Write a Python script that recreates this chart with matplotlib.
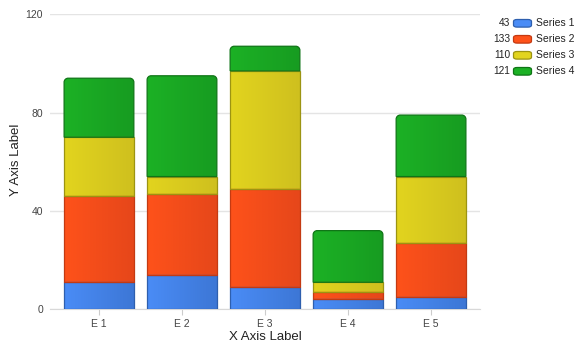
import numpy as np
import matplotlib.pyplot as plt
from matplotlib.path import Path
from matplotlib.patches import PathPatch, FancyBboxPatch
from matplotlib.colors import LinearSegmentedColormap

plt.rcParams['font.family'] = ['Liberation Sans', 'DejaVu Sans']

# stacked values per category
categories = ["E 1", "E 2", "E 3", "E 4", "E 5"]
series_names = ["Series 1", "Series 2", "Series 3", "Series 4"]
series1 = [11, 14, 9, 4, 5]
series2 = [35, 33, 40, 3, 22]
series3 = [24, 7, 48, 4, 27]
series4 = [24, 41, 10, 21, 25]
series_values = [series1, series2, series3, series4]

# left / right gradient colours and outline colour for each series
grad_left = ["#4a8cf6", "#fe521a", "#e2d41f", "#1cb125"]
grad_right = ["#3d77d6", "#e6471a", "#cfc01e", "#179c21"]
edges = ["#2e5fae", "#c43a12", "#9c9412", "#0f7516"]

fig = plt.figure(figsize=(5.84, 3.5), dpi=100)
ax = fig.add_axes([50 / 584, 40.7 / 350, 430 / 584, 295 / 350])

bar_w = 0.84
ax.set_xlim(-0.59, 4.59)
ax.set_ylim(0, 120)

# radius of rounded top corners in pixels, converted to data units
px_x = 430 / 5.18
px_y = 295 / 120
rx = 4 / px_x
ry = 4 / px_y


def seg_path(x0, x1, y0, y1, rounded):
    if not rounded:
        verts = [(x0, y0), (x1, y0), (x1, y1), (x0, y1), (x0, y0)]
        codes = [Path.MOVETO, Path.LINETO, Path.LINETO, Path.LINETO, Path.CLOSEPOLY]
        return Path(verts, codes)
    k = 0.55
    verts = [(x0, y0), (x1, y0), (x1, y1 - ry),
             (x1, y1 - ry * (1 - k)), (x1 - rx * (1 - k), y1), (x1 - rx, y1),
             (x0 + rx, y1),
             (x0 + rx * (1 - k), y1), (x0, y1 - ry * (1 - k)), (x0, y1 - ry),
             (x0, y0)]
    codes = [Path.MOVETO, Path.LINETO, Path.LINETO,
             Path.CURVE4, Path.CURVE4, Path.CURVE4,
             Path.LINETO,
             Path.CURVE4, Path.CURVE4, Path.CURVE4,
             Path.CLOSEPOLY]
    return Path(verts, codes)


grad = np.linspace(0, 1, 64).reshape(1, -1)
bottoms = np.zeros(len(categories))
for s, vals in enumerate(series_values):
    cmap = LinearSegmentedColormap.from_list(f"s{s}", [grad_left[s], grad_right[s]])
    for i, v in enumerate(vals):
        x0, x1 = i - bar_w / 2, i + bar_w / 2
        y0, y1 = bottoms[i], bottoms[i] + v
        top = s == len(series_values) - 1
        patch = PathPatch(seg_path(x0, x1, y0, y1, top), facecolor="none",
                          edgecolor=edges[s], linewidth=0.9, zorder=4)
        ax.add_patch(patch)
        im = ax.imshow(grad, cmap=cmap, aspect="auto", extent=(x0, x1, y0, y1),
                       zorder=3, interpolation="bilinear")
        im.set_clip_path(patch)
    bottoms += np.array(vals)

ax.set_xlim(-0.59, 4.59)
ax.set_ylim(0, 120)

ax.set_yticks([0, 40, 80, 120])
ax.set_xticks(range(len(categories)))
ax.set_xticklabels(categories)
ax.tick_params(axis="y", length=0, labelsize=7.5, colors="#444444", pad=5)
ax.tick_params(axis="x", length=4, color="#cccccc", labelsize=7.5,
               labelcolor="#444444", pad=3)
ax.grid(axis="y", color="#e4e4e4", linewidth=1, zorder=0)
ax.set_axisbelow(True)
for side in ["top", "right", "left"]:
    ax.spines[side].set_visible(False)
ax.spines["bottom"].set_color("#d8d8d8")

ax.set_xlabel("X Axis Label", fontsize=9.5, color="#222222")
ax.set_ylabel("Y Axis Label", fontsize=9.5, color="#222222")
ax.xaxis.set_label_coords(265 / 584, 1 - 337 / 350, transform=fig.transFigure)
ax.yaxis.set_label_coords(16 / 584, 1 - 160 / 350, transform=fig.transFigure)
ax.xaxis.label.set_va("center")
ax.yaxis.label.set_va("center")

# legend with series totals
totals = [sum(v) for v in series_values]
row_y = [23.3, 39.3, 55.3, 71.3]
for s in range(len(series_names)):
    yc = 1 - row_y[s] / 350
    fig.text(510 / 584, yc, str(totals[s]), ha="right", va="center",
             fontsize=7.3, color="#222222")
    box = FancyBboxPatch((513.5 / 584, yc - 3.8 / 350), 18 / 584, 7.6 / 350,
                         boxstyle="round,pad=0,rounding_size=0.006",
                         transform=fig.transFigure, facecolor=grad_left[s],
                         edgecolor=edges[s], linewidth=0.9)
    fig.patches.append(box)
    fig.text(536 / 584, yc, series_names[s], ha="left", va="center",
             fontsize=7.5, color="#222222")

fig.savefig("out.png", dpi=100)
